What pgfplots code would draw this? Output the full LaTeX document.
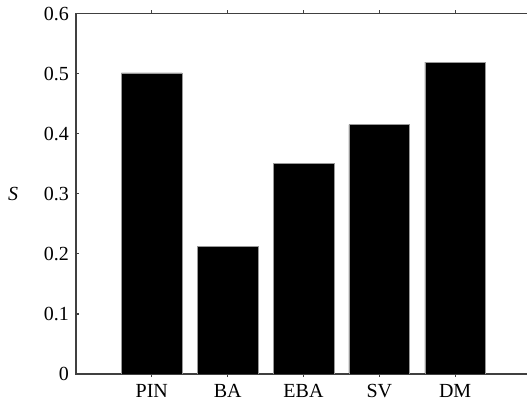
\documentclass[border=0pt]{standalone}
\usepackage{fontspec}
\setmainfont{Liberation Serif}
\usepackage{pgfplots}
\pgfplotsset{compat=1.18}
\begin{document}
\begin{tikzpicture}
\begin{axis}[
	at={(0,0)}, anchor=south west,
	scale only axis,
	width=227.5pt, height=180.25pt,
	xmin=0, xmax=6,
	ymin=0, ymax=0.6,
	xtick={1,2,3,4,5},
	xticklabels={PIN,BA,EBA,SV,DM},
	ytick={0,0.1,0.2,0.3,0.4,0.5,0.6},
	yticklabels={0,0.1,0.2,0.3,0.4,0.5,0.6},
	tick align=inside,
	major tick length=1.6pt,
	axis line style={black!75, line width=0.6pt},
	tick style={black!75, line width=0.6pt},
	tick label style={font=\fontsize{10}{12}\selectfont},
	/pgf/number format/assume math mode=true,
	ylabel={\textit{S}},
	ylabel style={rotate=-90, font=\fontsize{10}{12}\selectfont},
	ylabel shift={6pt},
	ybar,
	bar width=0.8,
]
\addplot[fill=black, draw=black!40, line width=0.3pt]
	coordinates {(1,0.501) (2,0.212) (3,0.351) (4,0.415) (5,0.519)};
\end{axis}
\pgfresetboundingbox
\path[use as bounding box] (-38pt,-13pt) rectangle (225.5pt,187pt);
\end{tikzpicture}
\end{document}
